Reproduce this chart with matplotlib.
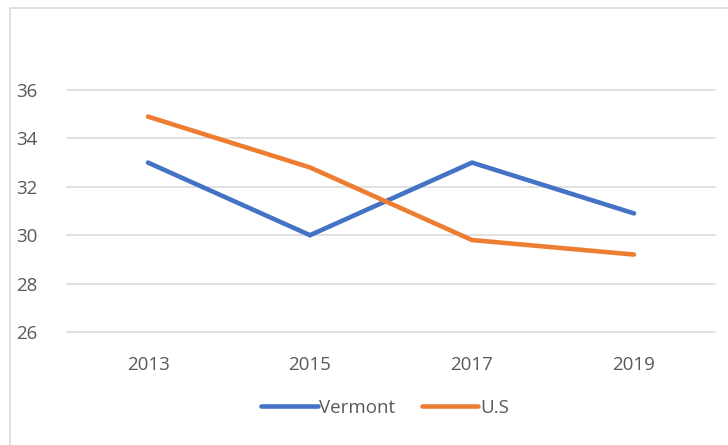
import matplotlib
matplotlib.use("Agg")
import matplotlib.pyplot as plt
from matplotlib.patches import Rectangle

years = ["2013", "2015", "2017", "2019"]
vermont = [33.0, 30.0, 33.0, 30.9]
us = [34.9, 32.8, 29.8, 29.2]
yticks = [26, 28, 30, 32, 34, 36]

plt.rcParams['font.family'] = ['Open Sans', 'DejaVu Sans']
txt = '#595959'

fig = plt.figure(figsize=(7.28, 4.45), dpi=100)
W, H = 728, 445
ax = fig.add_axes([67 / W, 1 - 332 / H, (715 - 67) / W, (332 - 90) / H])

x = list(range(len(years)))
ax.plot(x, vermont, color='#4472C4', lw=3.3, solid_capstyle='round', solid_joinstyle='round', label='Vermont')
ax.plot(x, us, color='#ED7D31', lw=3.3, solid_capstyle='round', solid_joinstyle='round', label='U.S')

ax.set_xlim(-0.5, len(years) - 0.5)
ax.set_ylim(26, 36)
ax.set_yticks(yticks)
ax.set_xticks(x)
ax.set_xticklabels(years)
ax.grid(axis='y', color='#d9d9d9', lw=1.1)
for gl in ax.get_ygridlines():
    gl.set_clip_on(False)
ax.set_axisbelow(True)
for s in ax.spines.values():
    s.set_visible(False)
ax.tick_params(axis='both', length=0, labelsize=13.5, colors=txt)
ax.tick_params(axis='y', pad=21)
ax.tick_params(axis='x', pad=17)

leg = fig.legend(loc='center', bbox_to_anchor=(385 / W, 1 - 408 / H), ncol=2, frameon=False,
                 fontsize=13.5, handlelength=3.0, handletextpad=0.1, columnspacing=1.4)
for t in leg.get_texts():
    t.set_color(txt)

fig.patches.append(Rectangle((10 / W, -0.1), 1.2, 1 - 8 / H + 0.1, transform=fig.transFigure,
                             fill=False, edgecolor='#d9d9d9', lw=1.2))

fig.savefig('out.png', dpi=100)
